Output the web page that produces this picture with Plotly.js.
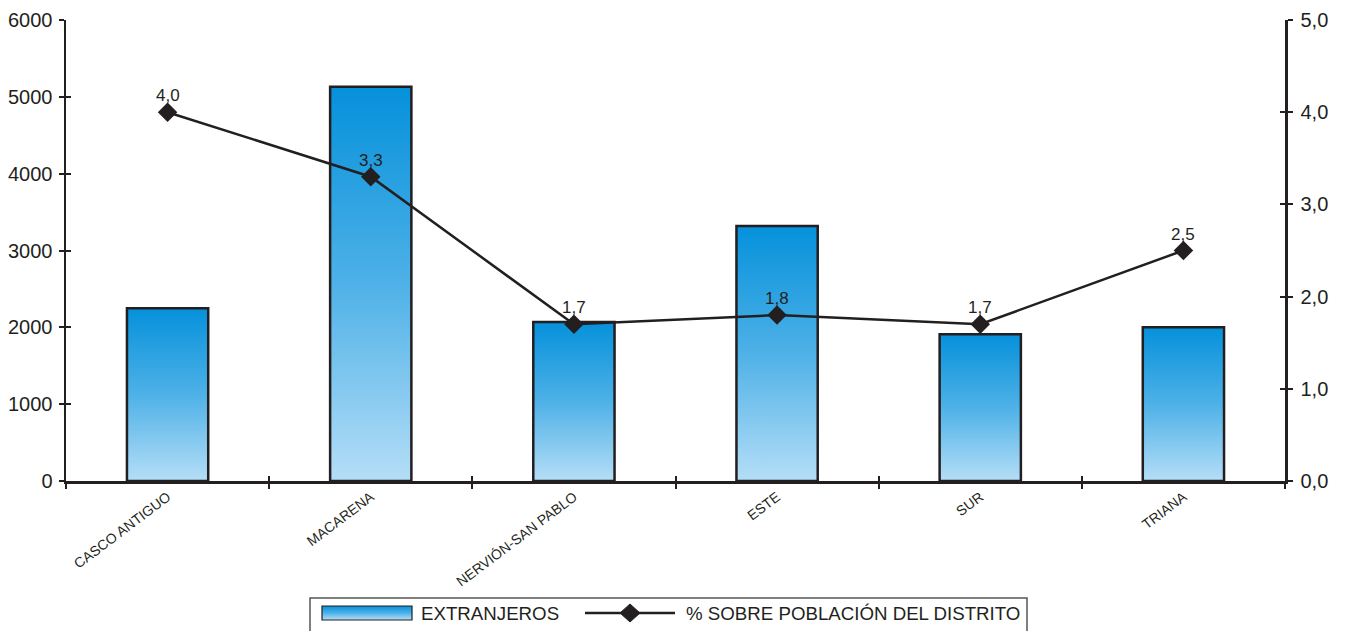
<!DOCTYPE html>
<html>
<head>
<meta charset="utf-8">
<script src="https://cdn.plot.ly/plotly-3.0.1.min.js"></script>
<style>html,body{margin:0;padding:0;background:#fff;}#chart{width:1345px;height:631px;}</style>
</head>
<body>
<div id="chart"></div>
<script>
// ---- data ----
const districts = ['CASCO ANTIGUO', 'MACARENA', 'NERVIÓN-SAN PABLO', 'ESTE', 'SUR', 'TRIANA'];
const extranjeros = [2250, 5130, 2070, 3320, 1910, 2000];
const porcentaje = [4.0, 3.3, 1.7, 1.8, 1.7, 2.5];
const leftTickVals = [0, 1000, 2000, 3000, 4000, 5000, 6000];
const rightTickVals = [0, 1, 2, 3, 4, 5];
const seriesNames = ['EXTRANJEROS', '% SOBRE POBLACIÓN DEL DISTRITO'];

// ---- layout helpers (pixel -> paper) ----
const L = 66, R = 1285, T = 20, B = 481;
const W = 1345, H = 631;
const px = v => (v - L) / (R - L);
const py = v => (B - v) / (B - T);
const ink = '#231f20';
const font = 'Liberation Sans, Arial, sans-serif';
const fmt = v => v.toFixed(1).replace('.', ',');

const traces = [
  {
    type: 'bar', x: districts, y: extranjeros, name: seriesNames[0],
    width: 0.4,
    marker: {color: '#3aa6e3', line: {color: ink, width: 2.5}},
    hoverinfo: 'x+y', showlegend: false
  },
  {
    type: 'scatter', mode: 'lines+markers', x: districts, y: porcentaje, yaxis: 'y2',
    name: seriesNames[1],
    line: {color: ink, width: 2.5},
    marker: {symbol: 'diamond', size: 15, color: ink},
    cliponaxis: false, showlegend: false
  },
  // carriers for the inward half of the crossing ticks
  {type: 'scatter', x: [], y: [], xaxis: 'x2', yaxis: 'y3', showlegend: false, hoverinfo: 'skip'},
  {type: 'scatter', x: [], y: [], xaxis: 'x2', yaxis: 'y4', showlegend: false, hoverinfo: 'skip'}
];

const yCommon = {showgrid: false, zeroline: false, fixedrange: true};
const valueLabels = districts.map((d, i) => ({
  x: d, y: porcentaje[i], xref: 'x', yref: 'y2', text: fmt(porcentaje[i]),
  showarrow: false, xanchor: 'center', yanchor: 'bottom', yshift: 5,
  font: {family: font, size: 17, color: ink}
}));

const layout = {
  width: W, height: H,
  margin: {l: L, r: W - R, t: T, b: H - B, pad: 0},
  paper_bgcolor: '#fff', plot_bgcolor: '#fff',
  separators: ',.',
  showlegend: false,
  font: {family: font, color: ink},
  xaxis: {
    type: 'category', range: [-0.5, 5.5], tickson: 'boundaries',
    ticks: 'outside', ticklen: 5, tickwidth: 2, tickcolor: ink,
    showline: true, linecolor: ink, linewidth: 2.5, showgrid: false, zeroline: false,
    tickangle: -37,
    tickfont: {family: 'Liberation Sans Narrow, Arial Narrow, Liberation Sans, sans-serif', size: 14, color: ink}
  },
  xaxis2: {
    overlaying: 'x', anchor: 'y', range: [-0.5, 5.5], tickmode: 'array',
    tickvals: [0.5, 1.5, 2.5, 3.5, 4.5], ticks: 'inside', ticklen: 5, tickwidth: 2, tickcolor: ink,
    showticklabels: false, showline: false, showgrid: false, zeroline: false
  },
  yaxis: Object.assign({}, yCommon, {
    range: [0, 6000], tickmode: 'array', tickvals: leftTickVals,
    ticks: 'outside', ticklen: 5, tickwidth: 2, tickcolor: ink,
    showline: true, linecolor: ink, linewidth: 2.5, ticklabelstandoff: 2,
    tickfont: {family: font, size: 20, color: ink}
  }),
  yaxis2: Object.assign({}, yCommon, {
    overlaying: 'y', side: 'right', range: [0, 5], tickmode: 'array', tickvals: rightTickVals,
    tickformat: '.1f',
    ticks: 'outside', ticklen: 5, tickwidth: 2, tickcolor: ink,
    showline: true, linecolor: ink, linewidth: 2.5, ticklabelstandoff: 4,
    tickfont: {family: font, size: 20, color: ink}
  }),
  yaxis3: Object.assign({}, yCommon, {
    overlaying: 'y', side: 'left', anchor: 'x2', range: [0, 6000], tickmode: 'array', tickvals: leftTickVals,
    ticks: 'inside', ticklen: 5, tickwidth: 2, tickcolor: ink, showticklabels: false, showline: false
  }),
  yaxis4: Object.assign({}, yCommon, {
    overlaying: 'y', side: 'right', anchor: 'x2', range: [0, 5], tickmode: 'array', tickvals: rightTickVals,
    ticks: 'inside', ticklen: 5, tickwidth: 2, tickcolor: ink, showticklabels: false, showline: false
  }),
  shapes: [
    // legend frame
    {type: 'rect', xref: 'paper', yref: 'paper', x0: px(310), x1: px(1027), y0: py(645), y1: py(598),
     line: {color: '#555', width: 1.5}, fillcolor: 'rgba(0,0,0,0)', layer: 'above'},
    // legend bar swatch
    {type: 'rect', xref: 'paper', yref: 'paper', x0: px(322), x1: px(412), y0: py(620), y1: py(606),
     line: {color: ink, width: 1.2}, fillcolor: '#3aa6e3', layer: 'above'},
    // legend line swatch
    {type: 'line', xref: 'paper', yref: 'paper', x0: px(585), x1: px(675), y0: py(613), y1: py(613),
     line: {color: ink, width: 2.5}, layer: 'above'},
    {type: 'path', xref: 'paper', yref: 'paper', xsizemode: 'pixel', ysizemode: 'pixel',
     xanchor: px(630), yanchor: py(613), path: 'M0,9 L10,0 L0,-9 L-10,0 Z',
     fillcolor: ink, line: {color: ink, width: 1}, layer: 'above'}
  ],
  annotations: valueLabels.concat([
    {xref: 'paper', yref: 'paper', x: px(419), y: py(613), xanchor: 'left', yanchor: 'middle',
     text: seriesNames[0], showarrow: false, font: {family: font, size: 18.7, color: ink}},
    {xref: 'paper', yref: 'paper', x: px(684), y: py(613), xanchor: 'left', yanchor: 'middle',
     text: seriesNames[1], showarrow: false, font: {family: font, size: 18.7, color: ink}}
  ])
};

Plotly.newPlot('chart', traces, layout, {displayModeBar: false, staticPlot: true}).then(gd => {
  const svg = gd.querySelector('svg.main-svg');
  const ns = 'http://www.w3.org/2000/svg';
  let defs = svg.querySelector('defs');
  if (!defs) { defs = document.createElementNS(ns, 'defs'); svg.insertBefore(defs, svg.firstChild); }
  const grad = document.createElementNS(ns, 'linearGradient');
  grad.setAttribute('id', 'barGrad');
  grad.setAttribute('x1', '0'); grad.setAttribute('y1', '0');
  grad.setAttribute('x2', '0'); grad.setAttribute('y2', '1');
  [['0', '#0591db'], ['0.5', '#4eb1e7'], ['1', '#b5def7']].forEach(([o, c]) => {
    const s = document.createElementNS(ns, 'stop');
    s.setAttribute('offset', o); s.setAttribute('stop-color', c);
    grad.appendChild(s);
  });
  defs.appendChild(grad);
  gd.querySelectorAll('.trace.bars .point path').forEach(p => { p.style.fill = 'url(#barGrad)'; });
  const shp = gd.querySelectorAll('.shapelayer path');
  shp.forEach(p => { if (p.getAttribute('data-index') === '1') p.style.fill = 'url(#barGrad)'; });
});
</script>
</body>
</html>
